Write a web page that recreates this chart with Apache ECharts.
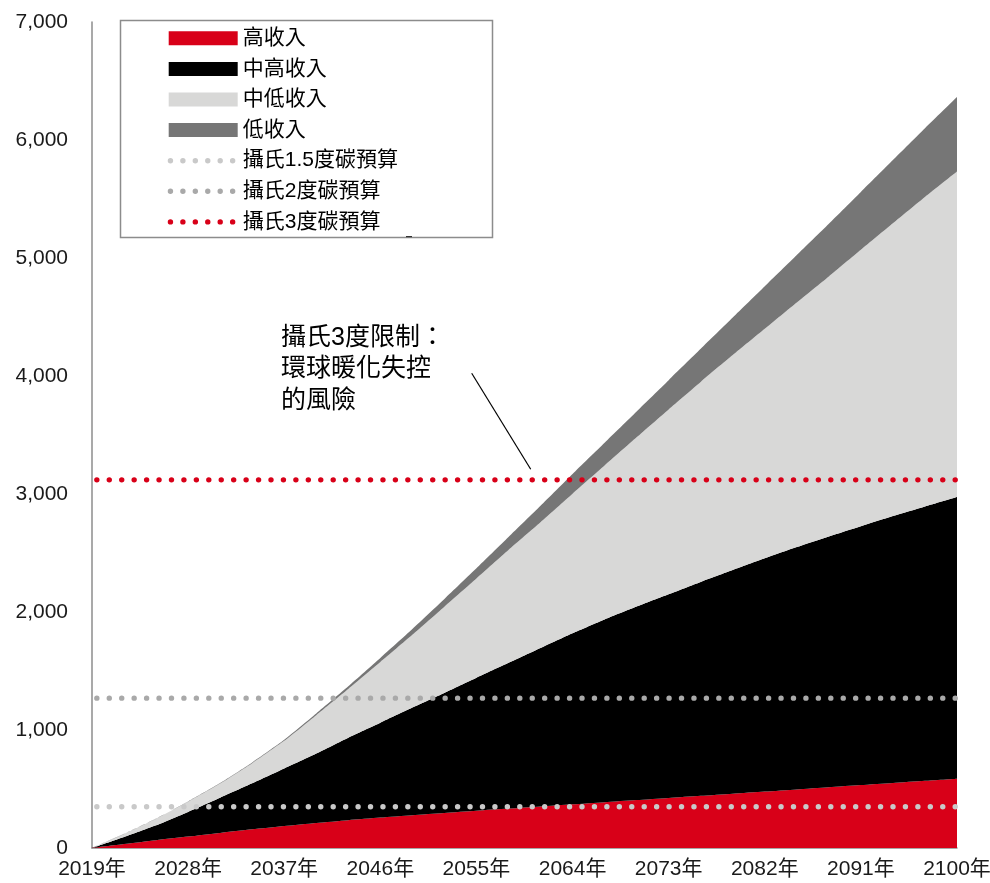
<!DOCTYPE html>
<html>
<head>
<meta charset="utf-8">
<script src="https://cdn.jsdelivr.net/npm/echarts@6.0.0/dist/echarts.min.js"></script>
<style>
  html, body { margin: 0; padding: 0; background: #ffffff; }
  #chart { width: 990px; height: 883px; }
</style>
</head>
<body>
<div id="chart"></div>
<script>
// Cumulative emissions by income group, stacked; sampled every three years.
const years = [2019, 2022, 2025, 2028, 2031, 2034, 2037, 2040, 2043, 2046, 2049, 2052, 2055, 2058,
               2061, 2064, 2067, 2070, 2073, 2076, 2079, 2082, 2085, 2088, 2091, 2094, 2097, 2100];

const highIncome  = [0, 33, 66, 97, 128, 158, 186, 212, 236, 258, 278, 297, 316, 334,
                     352, 370, 388, 406, 424, 442, 460, 478, 496, 514, 533, 551, 569, 587];
const upperMiddle = [0, 60, 126, 209, 298, 390, 487, 588, 699, 804, 912, 1017, 1126, 1235,
                     1343, 1450, 1549, 1640, 1726, 1813, 1896, 1977, 2054, 2126, 2194, 2262, 2326, 2388];
const lowerMiddle = [0, 26, 56, 86, 120, 171, 235, 326, 413, 514, 617, 731, 842, 956,
                     1065, 1182, 1304, 1434, 1567, 1695, 1821, 1945, 2073, 2204, 2343, 2482, 2623, 2759];
const lowIncome   = [0, 1, 2, 3, 4, 6, 9, 14, 22, 34, 48, 65, 86, 110,
                     140, 168, 194, 220, 248, 280, 318, 360, 402, 446, 490, 535, 582, 630];

const groupNames  = ['高收入', '中高收入', '中低收入', '低收入'];
const groupColors = ['#d80018', '#000000', '#d8d8d7', '#767676'];

// Carbon budget thresholds
const budgetNames  = ['攝氏1.5度碳預算', '攝氏2度碳預算', '攝氏3度碳預算'];
const budgetValues = [350, 1270, 3120];
const budgetColors = ['#c9c9c9', '#a9a9a9', '#d80018'];

// Axis ticks: a label every third sample (every nine years)
const xLabelEvery = 3;
const yMax = 7000;
const yTickStep = 1000;

const annotationLines = ['攝氏3度限制：', '環球暖化失控', '的風險'];

const fontLatin = '"Liberation Sans", Arial, "Noto Sans CJK TC", sans-serif';

const categories = years.map(y => y + '年');

const groupSeries = [highIncome, upperMiddle, lowerMiddle, lowIncome].map((vals, i) => ({
  name: groupNames[i],
  type: 'line',
  stack: 'total',
  symbol: 'none',
  showSymbol: false,
  smooth: 0.2,
  z: 2,
  itemStyle: { color: groupColors[i] },
  lineStyle: { width: 0, color: groupColors[i] },
  areaStyle: { color: groupColors[i], opacity: 1 },
  emphasis: { disabled: true },
  data: vals.slice()
}));

const budgetSeries = budgetValues.map((v, i) => ({
  name: budgetNames[i],
  type: 'line',
  symbol: 'none',
  showSymbol: false,
  z: 5,
  itemStyle: { color: budgetColors[i] },
  lineStyle: {
    color: budgetColors[i],
    width: 5.4,
    type: [0.01, 12.43],
    cap: 'round',
    dashOffset: 7.6
  },
  emphasis: { disabled: true },
  data: years.map(() => v)
}));

const legendData = groupNames.map(n => ({ name: n, icon: 'rect' }))
  .concat(budgetNames.map(n => ({ name: n, itemStyle: { opacity: 0 } })));

const chart = echarts.init(document.getElementById('chart'), null, { renderer: 'canvas' });

chart.setOption({
  animation: false,
  backgroundColor: '#ffffff',
  grid: { left: 92, right: 33, top: 22, bottom: 35, containLabel: false, outerBoundsMode: 'none' },
  legend: {
    orient: 'vertical',
    left: 166,
    top: 26.3,
    padding: 0,
    itemWidth: 69,
    itemHeight: 14,
    itemGap: 6.6,
    selectedMode: false,
    data: legendData,
    lineStyle: { width: 5.4, cap: 'round', dashOffset: 10.7 },
    textStyle: {
      fontSize: 21,
      lineHeight: 24,
      color: '#000000',
      fontFamily: fontLatin
    }
  },
  xAxis: {
    type: 'category',
    boundaryGap: false,
    data: categories,
    axisLine: { show: true, onZero: false, lineStyle: { color: '#8c8c8c', width: 1.5 } },
    axisTick: { show: false },
    splitLine: { show: false },
    axisLabel: {
      show: true,
      interval: xLabelEvery - 1,
      margin: 11,
      showMinLabel: true,
      showMaxLabel: true,
      hideOverlap: false,
      fontSize: 21,
      color: '#1a1a1a',
      fontFamily: fontLatin
    }
  },
  yAxis: {
    type: 'value',
    min: 0,
    max: yMax,
    interval: yTickStep,
    axisLine: { show: true, lineStyle: { color: '#8c8c8c', width: 1.5 } },
    axisTick: { show: false },
    splitLine: { show: false },
    axisLabel: {
      margin: 24,
      fontSize: 21,
      color: '#1a1a1a',
      fontFamily: fontLatin,
      formatter: v => v.toLocaleString('en-US')
    }
  },
  graphic: [
    {
      type: 'rect',
      z: 1,
      shape: { x: 120.5, y: 20.5, width: 372, height: 217 },
      style: { fill: 'none', stroke: '#8c8c8c', lineWidth: 1.5 }
    },
    {
      type: 'rect',
      z: 1,
      shape: { x: 406, y: 236, width: 6, height: 1.2 },
      style: { fill: '#333333' }
    },
    {
      type: 'text',
      z: 10,
      x: 281,
      y: 322,
      style: {
        text: annotationLines.join('\n'),
        fontSize: 25,
        lineHeight: 31.5,
        fill: '#000000',
        fontFamily: '"Liberation Sans", "Noto Sans CJK TC", sans-serif',
        verticalAlign: 'top',
        align: 'left'
      }
    },
    {
      type: 'line',
      z: 10,
      shape: { x1: 471.7, y1: 373.3, x2: 530.7, y2: 469.3 },
      style: { stroke: '#000000', lineWidth: 1.2 }
    }
  ],
  series: groupSeries.concat(budgetSeries)
});
</script>
</body>
</html>
